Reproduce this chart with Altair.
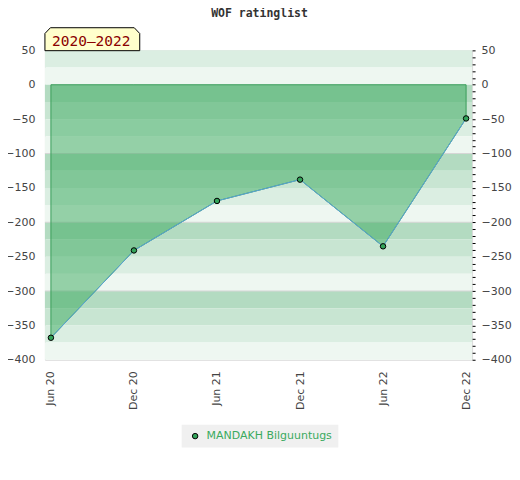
import altair as alt
import pandas as pd

# ---- data ----
periods = ["Jun 20", "Dec 20", "Jun 21", "Dec 21", "Jun 22", "Dec 22"]
ratings = [-368, -241, -169, -138, -235, -49]
player = "MANDAKH Bilguuntugs"
title_text = "WOF ratinglist"
badge_text = "2020–2022"
band_tops = [50, 25, 0, -25, -50, -75, -100, -125, -150, -175,
             -200, -225, -250, -275, -300, -325, -350, -375]
band_step = 25
grid_values = [-100, -200, -300]
y_ticks = list(range(-400, 51, 50))
y_minor = list(range(-400, 51, 10))

# ---- styles ----
shades = ["#b3dbc1", "#c8e5d2", "#dbeee2", "#eef7f1"]
area_green = "#3aaa5e"
edge_green = "#3a9e5a"
point_green = "#33a35a"
line_blue = "#5aa2d8"
label_gray = "#444444"

df = pd.DataFrame({"period": periods, "rating": ratings,
                   "zero": [0] * len(periods), "player": [player] * len(periods)})
bands = pd.DataFrame({
    "top": band_tops,
    "bottom": [t - band_step for t in band_tops],
    "shade": [shades[((-t) // band_step) % 4] for t in band_tops],
})
grid = pd.DataFrame({"v": grid_values})
badge = pd.DataFrame({"t": [badge_text]})
title_df = pd.DataFrame({"t": [title_text]})

yscale = alt.Scale(domain=[-400, 50], nice=False, zero=False)
xscale = alt.Scale(type="point", padding=0.0721)
xaxis = alt.Axis(title=None, labelAngle=270, labelAlign="right", labelBaseline="middle",
                 ticks=False, tickSize=0, domain=False, grid=False, labelPadding=11,
                 labelColor=label_gray, labelFont="DejaVu Sans", labelFontSize=11)
X = alt.X("period:O", sort=periods, scale=xscale, axis=xaxis)

band_layer = alt.Chart(bands).mark_rect().encode(
    y=alt.Y("top:Q", scale=yscale, axis=None),
    y2="bottom:Q",
    fill=alt.Fill("shade:N", scale=None),
)

grid_layer = alt.Chart(grid).mark_rule(color="#d6d6d6", strokeWidth=1).encode(
    y=alt.Y("v:Q", scale=yscale, axis=None)
)

area_layer = alt.Chart(df).mark_area(
    color=area_green, fillOpacity=0.5, stroke=edge_green, strokeWidth=1
).encode(
    x=X,
    y=alt.Y("rating:Q", scale=yscale,
            axis=alt.Axis(title=None, orient="left", values=y_ticks, ticks=False, tickSize=0,
                          domain=False, grid=False, labelPadding=10, labelColor=label_gray,
                          labelFont="DejaVu Sans", labelFontSize=11)),
    y2="zero:Q",
)

line_layer = alt.Chart(df).mark_line(color=line_blue, strokeWidth=1).encode(
    x=X,
    y=alt.Y("rating:Q", scale=yscale, axis=None),
)

point_layer = alt.Chart(df).mark_point(
    filled=True, shape="circle", size=30, stroke="black", strokeWidth=1, opacity=1
).encode(
    x=X,
    y=alt.Y("rating:Q", scale=yscale,
            axis=alt.Axis(title=None, orient="right", values=y_minor,
                          labelExpr="datum.value % 50 == 0 ? datum.label : ''",
                          ticks=True, tickSize=3, tickColor="black", tickWidth=1,
                          domain=False, grid=False, labelPadding=6, labelColor=label_gray,
                          labelFont="DejaVu Sans", labelFontSize=11)),
    color=alt.Color("player:N", scale=alt.Scale(range=[point_green]),
                    legend=alt.Legend(title=None, orient="none", legendX=137, legendY=375,
                                      fillColor="#f0f0f0", padding=6, symbolOffset=2,
                                      symbolType="circle", symbolSize=30,
                                      symbolStrokeColor="black", symbolStrokeWidth=1,
                                      labelColor="#3aaa5e", labelFont="DejaVu Sans",
                                      labelFontSize=11, labelLimit=400, labelOffset=6)),
)

badge_shape = "M-1,0.2421 L-1,-0.12 L-0.884,-0.2421 L0.884,-0.2421 L1,-0.12 L1,0.2421 Z"
badge_box = alt.Chart(badge).mark_point(
    shape=badge_shape, filled=True, fill="#ffffcc", stroke="black", strokeWidth=1,
    size=95 * 95, opacity=1
).encode(x=alt.value(47.5), y=alt.value(-11.2))

badge_label = alt.Chart(badge).mark_text(
    font="DejaVu Sans Mono", fontSize=14.5, color="#8b0000", align="center",
    baseline="alphabetic"
).encode(x=alt.value(46.4), y=alt.value(-4.4), text="t:N")

title_layer = alt.Chart(title_df).mark_text(
    font="DejaVu Sans Mono", fontSize=11.5, fontWeight="bold", color="#333333",
    align="center", baseline="alphabetic"
).encode(x=alt.value(215), y=alt.value(-33.3), text="t:N")

chart = alt.layer(
    band_layer, grid_layer, area_layer, line_layer, point_layer, badge_box, badge_label,
    title_layer
).resolve_axis(y="independent").properties(
    width=428, height=310,
    autosize=alt.AutoSizeParams(type="none"),
    padding={"left": 37, "top": 42, "right": 40, "bottom": 110},
).configure_view(stroke="#d9d9d9", strokeWidth=1).configure_legend(
    labelFont="DejaVu Sans", labelFontSize=11, labelLimit=400
)

chart.save("out.html", embed_options={"renderer": "svg", "actions": False})
